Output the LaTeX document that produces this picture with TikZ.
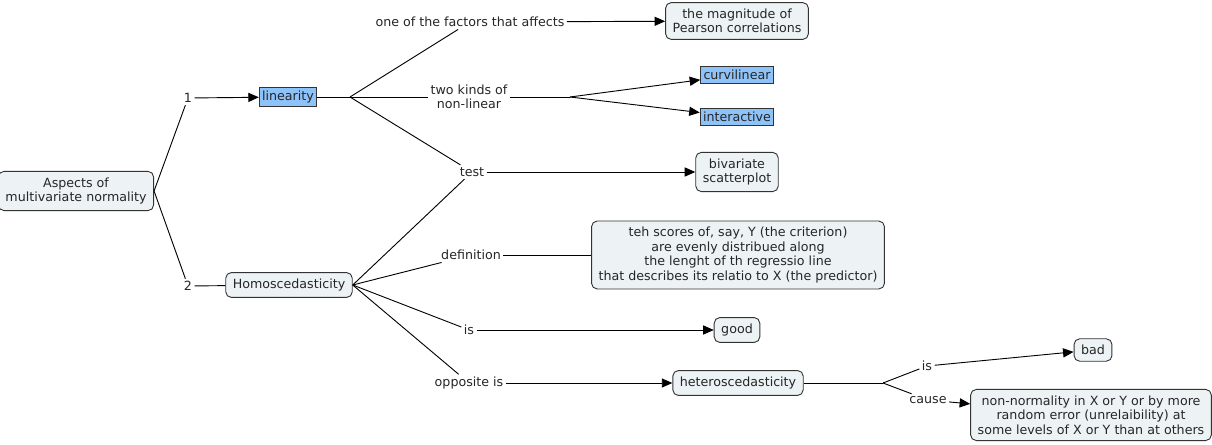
\documentclass[tikz,border=0pt]{standalone}
\usepackage{fontspec}
\setmainfont{DejaVu Sans}
\usetikzlibrary{arrows.meta}
\definecolor{conc}{RGB}{237,243,245}
\definecolor{hil}{RGB}{142,195,250}

\begin{document}
\begin{tikzpicture}[x=0.025cm,y=-0.025cm,line width=0.65pt]
\tikzstyle{every node}=[font=\fontsize{9}{10.2}\selectfont, text=black!85]
\tikzstyle{concept}=[draw=black!80, fill=conc, rounded corners=4pt, align=center, inner xsep=5pt, inner ysep=4.5pt]
\tikzstyle{hilite}=[draw=black!80, fill=hil, inner xsep=2pt, inner ysep=2.5pt]
\tikzstyle{phrase}=[inner sep=1.5pt, align=center]
\tikzstyle{link}=[-{Triangle[length=7.5pt,width=6.5pt]}]
\useasboundingbox (0,0) rectangle (1212,445);
% concepts
    \node[concept] (aspects) at (76,191) {Aspects of\\multivariate normality};
    \node[hilite] (lin) at (288,97) {linearity};
    \node[concept] (homo) at (289,285) {Homoscedasticity};
    \node[concept] (mag) at (737,21) {the magnitude of\\Pearson correlations};
    \node[hilite] (curv) at (737,75) {curvilinear};
    \node[hilite] (inter) at (737,117) {interactive};
    \node[concept] (scat) at (737,172) {bivariate\\scatterplot};
    \node[concept] (defbox) at (738,255) {teh scores of, say, Y (the criterion)\\are evenly distribued along\\the lenght of th regressio line\\that describes its relatio to X (the predictor)};
    \node[concept] (good) at (737,330) {good};
    \node[concept] (het) at (738,383) {heteroscedasticity};
    \node[concept] (bad) at (1093,350) {bad};
    \node[concept] (nonnorm) at (1091,415) {non-normality in X or Y or by more\\random error (unrelaibility) at\\some levels of X or Y than at others};
% linking phrases
    \node[phrase] (l1) at (188,98) {1};
    \node[phrase] (l2) at (188,286) {2};
    \node[phrase] (factors) at (470,22) {one of the factors that affects};
    \node[phrase] (kinds) at (469,97) {two kinds of\\non-linear};
    \node[phrase] (test) at (472,172) {test};
    \node[phrase] (defn) at (471,255) {definition};
    \node[phrase] (is1) at (469,330) {is};
    \node[phrase] (opp) at (469,383) {opposite is};
    \node[phrase] (is2) at (927,366) {is};
    \node[phrase] (cause) at (928,400) {cause};
    \coordinate (jlin) at (350,97);
    \coordinate (jkinds) at (570,97);
    \coordinate (jhet) at (883,383);
% connectors
    \draw (aspects.east) -- (l1);
    \draw (aspects.east) -- (l2);
    \draw[link] (l1) -- (lin);
    \draw (l2) -- (homo);
    \draw (lin) -- (jlin);
    \draw (jlin) -- (factors);
    \draw (jlin) -- (kinds);
    \draw (jlin) -- (test);
    \draw[link] (factors) -- (mag);
    \draw (kinds) -- (jkinds);
    \draw[link] (jkinds) -- (curv);
    \draw[link] (jkinds) -- (inter);
    \draw[link] (test) -- (scat);
    \draw (homo.east) -- (test);
    \draw (homo.east) -- (defn);
    \draw (homo.east) -- (is1);
    \draw (homo.east) -- (opp);
    \draw (defn) -- (defbox);
    \draw[link] (is1) -- (good);
    \draw[link] (opp) -- (het);
    \draw (het) -- (jhet);
    \draw (jhet) -- (is2);
    \draw (jhet) -- (cause);
    \draw[link] (is2) -- (bad);
    \draw[link] (cause) -- (nonnorm);
\end{tikzpicture}
\end{document}
